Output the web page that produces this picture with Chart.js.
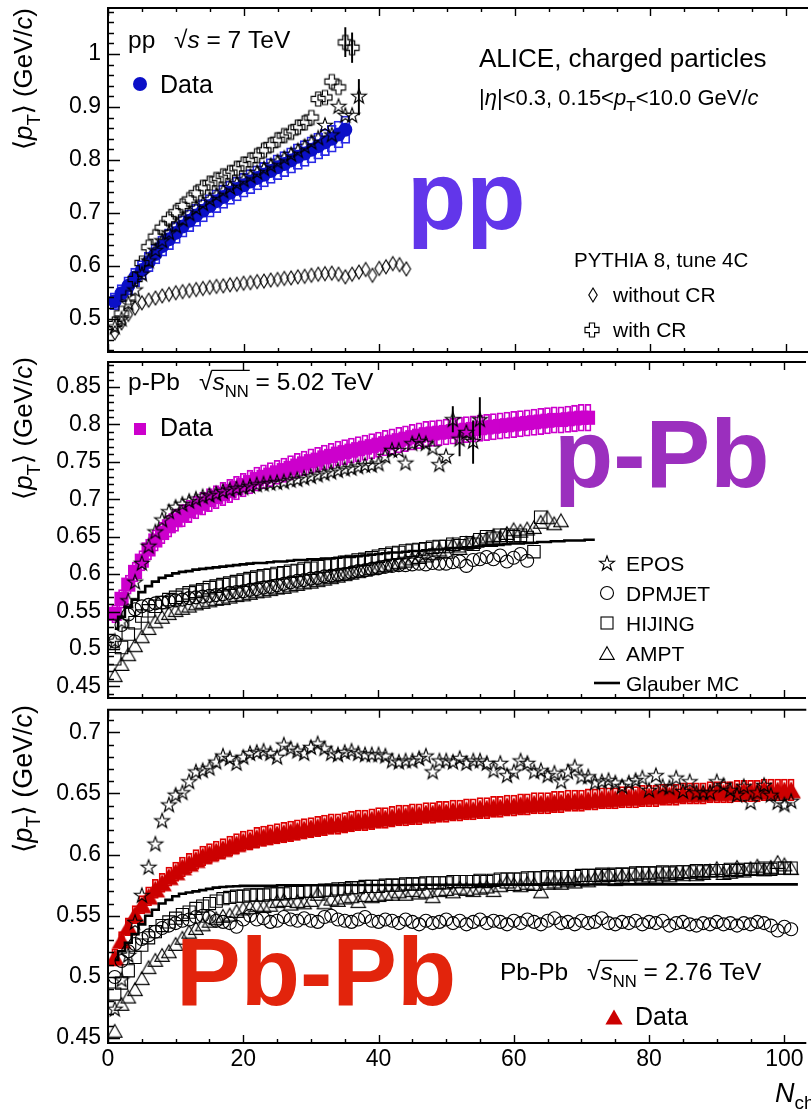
<!DOCTYPE html>
<html><head><meta charset="utf-8">
<script src="https://cdn.jsdelivr.net/npm/chart.js@4.4.1/dist/chart.umd.min.js"></script>
<style>
html,body{margin:0;padding:0;background:#fff;overflow:hidden;}
#wrap{position:relative;width:811px;height:1110px;}
canvas{position:absolute;left:0;}
</style></head><body>
<div id="wrap">
<canvas id="c1" width="811" height="360" style="top:0px"></canvas>
<canvas id="c2" width="811" height="356" style="top:352px"></canvas>
<canvas id="c3" width="811" height="410" style="top:700px"></canvas>
</div>
<script>
const F = "'Liberation Sans', Arial, Helvetica, 'DejaVu Sans', sans-serif";
const XMAX = 102.5;
const xTicks = [0, 20, 40, 60, 80, 100];
const yTicksPP = [0.5, 0.6, 0.7, 0.8, 0.9, 1.0];
const yTicksPPb = [0.45, 0.5, 0.55, 0.6, 0.65, 0.7, 0.75, 0.8, 0.85];
const yTicksPbPb = [0.45, 0.5, 0.55, 0.6, 0.65, 0.7];

// ---------- pp, sqrt(s)=7 TeV (values for Nch = 1,2,3,...) ----------
const ppData = [0.533,0.548,0.562,0.578,0.592,0.607,0.622,0.637,0.650,0.662,
  0.674,0.685,0.695,0.704,0.713,0.722,0.730,0.738,0.745,0.752,
  0.759,0.766,0.772,0.779,0.786,0.792,0.799,0.806,0.812,0.819,
  0.826,0.833,0.840,0.848,0.857];
const ppSysRel = 0.03;
const ppWithCR = [0.490,0.510,0.540,0.575,0.605,0.635,0.655,0.672,0.688,0.701,
  0.713,0.725,0.737,0.748,0.756,0.763,0.770,0.776,0.784,0.792,
  0.800,0.808,0.818,0.828,0.838,0.846,0.852,0.862,0.870,0.880,
  0.915,0.918,0.948,0.937,1.022,1.012];
const ppWithCRErr = [[35,0.995,1.050],[36,0.984,1.040]];
const ppStar = [0.485,0.500,0.530,0.555,0.585,0.610,0.630,0.648,0.663,0.676,
  0.688,0.699,0.709,0.718,0.726,0.734,0.742,0.749,0.756,0.763,
  0.770,0.777,0.784,0.790,0.797,0.804,0.811,0.818,0.826,0.834,
  0.842,0.866,0.848,0.902,0.885,0.885,0.921];
const ppStarErr = [[37,0.885,0.952]];
const ppNoCR = [0.473,0.492,0.508,0.520,0.530,0.535,0.539,0.543,0.546,0.549,
  0.551,0.553,0.555,0.557,0.559,0.561,0.562,0.564,0.565,0.567,
  0.568,0.570,0.571,0.573,0.574,0.576,0.577,0.579,0.580,0.582,
  0.584,0.585,0.586,0.584,0.579,0.584,0.588,0.593,0.582,0.595,
  0.598,0.604,0.602,0.594];

// ---------- p-Pb, sqrt(sNN)=5.02 TeV ----------
const ppbData = [0.547,0.567,0.586,0.603,0.618,0.633,0.645,0.655,0.664,0.672,
  0.678,0.684,0.689,0.694,0.699,0.703,0.707,0.711,0.715,0.719,
  0.723,0.727,0.730,0.733,0.736,0.739,0.742,0.745,0.748,0.751,
  0.753,0.756,0.758,0.761,0.763,0.765,0.767,0.769,0.771,0.773,
  0.775,0.777,0.779,0.781,0.783,0.785,0.787,0.788,0.789,0.790,
  0.791,0.792,0.793,0.794,0.795,0.796,0.797,0.798,0.799,0.800,
  0.801,0.802,0.803,0.804,0.805,0.806,0.806,0.807,0.808,0.809,0.809];
const ppbSysRel = 0.022;
const ppbEPOS = [0.511,0.537,0.565,0.590,0.615,0.638,0.657,0.673,0.684,0.690,
  0.694,0.698,0.701,0.704,0.706,0.708,0.711,0.713,0.715,0.716,
  0.718,0.720,0.721,0.722,0.723,0.724,0.726,0.727,0.729,0.731,
  0.733,0.735,0.737,0.739,0.741,0.742,0.744,0.746,0.746,0.748,
  0.758,0.766,0.766,0.749,0.775,0.778,0.775,0.769,0.747,0.758,
  0.807,0.781,0.790,0.778,0.807];
const ppbEPOSErr = [[51,0.790,0.824],[52,0.758,0.792],[54,0.748,0.805],[55,0.782,0.836]];
const ppbDPMJET = [0.510,0.532,0.546,0.553,0.557,0.559,0.561,0.562,0.564,0.565,
  0.566,0.568,0.569,0.570,0.571,0.572,0.573,0.575,0.576,0.577,
  0.579,0.580,0.582,0.583,0.585,0.587,0.589,0.591,0.592,0.594,
  0.595,0.597,0.598,0.599,0.600,0.602,0.604,0.605,0.607,0.608,
  0.610,0.611,0.612,0.612,0.613,0.614,0.613,0.615,0.614,0.614,
  0.616,0.617,0.611,0.619,0.620,0.623,0.620,0.625,0.617,0.622,
  0.627,0.618];
const ppbHIJING = [0.487,0.502,0.520,0.535,0.544,0.551,0.557,0.562,0.566,0.569,
  0.572,0.575,0.577,0.579,0.582,0.584,0.586,0.588,0.590,0.592,
  0.594,0.596,0.598,0.599,0.601,0.602,0.604,0.605,0.607,0.608,
  0.610,0.611,0.613,0.614,0.616,0.617,0.619,0.620,0.622,0.624,
  0.626,0.628,0.629,0.631,0.632,0.633,0.634,0.636,0.637,0.637,
  0.640,0.638,0.642,0.640,0.646,0.650,0.648,0.652,0.652,0.650,
  0.652,0.649,0.630,0.676];
const ppbAMPT = [0.465,0.480,0.493,0.505,0.517,0.528,0.537,0.543,0.548,0.552,
  0.555,0.558,0.561,0.563,0.565,0.567,0.568,0.570,0.572,0.573,
  0.575,0.577,0.578,0.580,0.582,0.583,0.585,0.587,0.589,0.590,
  0.592,0.594,0.596,0.598,0.600,0.602,0.604,0.606,0.608,0.610,
  0.612,0.614,0.616,0.618,0.621,0.623,0.625,0.628,0.633,0.630,
  0.640,0.635,0.642,0.643,0.646,0.648,0.652,0.650,0.655,0.660,
  0.658,0.661,0.663,0.670,0.676,0.668,0.672];
const ppbGlauber = [0.527,0.543,0.556,0.566,0.576,0.584,0.590,0.595,0.598,0.601,
  0.603,0.604,0.606,0.607,0.608,0.609,0.610,0.611,0.612,0.613,
  0.614,0.615,0.615,0.616,0.617,0.617,0.618,0.619,0.619,0.620,
  0.620,0.621,0.621,0.622,0.623,0.623,0.624,0.625,0.626,0.627,
  0.628,0.629,0.629,0.630,0.631,0.631,0.632,0.633,0.633,0.634,
  0.635,0.635,0.636,0.636,0.637,0.638,0.638,0.639,0.640,0.641,
  0.641,0.642,0.642,0.643,0.643,0.644,0.644,0.645,0.645,0.645,
  0.646,0.646];

// ---------- Pb-Pb, sqrt(sNN)=2.76 TeV ----------
const pbData = [0.516,0.530,0.541,0.551,0.559,0.566,0.572,0.577,0.582,0.586,
  0.590,0.593,0.596,0.599,0.601,0.603,0.605,0.607,0.609,0.611,
  0.612,0.614,0.615,0.616,0.617,0.618,0.619,0.620,0.621,0.622,
  0.623,0.624,0.625,0.625,0.626,0.627,0.628,0.628,0.629,0.630,
  0.630,0.631,0.632,0.632,0.633,0.633,0.634,0.634,0.635,0.635,
  0.636,0.636,0.637,0.637,0.638,0.638,0.639,0.639,0.640,0.640,
  0.641,0.641,0.642,0.642,0.642,0.643,0.643,0.644,0.644,0.644,
  0.645,0.645,0.646,0.646,0.646,0.647,0.647,0.647,0.648,0.648,
  0.648,0.649,0.649,0.649,0.650,0.650,0.650,0.650,0.651,0.651,
  0.651,0.651,0.652,0.652,0.652,0.652,0.653,0.653,0.653,0.653,0.653];
const pbSysRel = 0.0135;
const pbEPOS = [0.474,0.498,0.518,0.545,0.567,0.590,0.609,0.628,0.641,0.649,
  0.651,0.660,0.668,0.669,0.671,0.676,0.681,0.679,0.675,0.680,
  0.683,0.684,0.685,0.683,0.680,0.690,0.687,0.685,0.683,0.688,
  0.691,0.687,0.683,0.682,0.684,0.685,0.683,0.682,0.682,0.682,
  0.681,0.677,0.676,0.677,0.677,0.679,0.681,0.668,0.677,0.677,
  0.676,0.679,0.675,0.677,0.677,0.675,0.669,0.675,0.665,0.668,
  0.677,0.675,0.668,0.669,0.665,0.667,0.660,0.668,0.672,0.664,
  0.664,0.659,0.660,0.661,0.659,0.656,0.659,0.661,0.663,0.653,
  0.665,0.656,0.655,0.663,0.652,0.660,0.651,0.651,0.651,0.660,
  0.657,0.653,0.649,0.656,0.643,0.651,0.657,0.649,0.643,0.641,0.644];
const pbDPMJET = [0.500,0.513,0.521,0.527,0.531,0.534,0.537,0.540,0.542,0.544,
  0.546,0.547,0.549,0.550,0.549,0.546,0.545,0.544,0.541,0.547,
  0.550,0.547,0.548,0.545,0.546,0.549,0.547,0.546,0.548,0.546,
  0.545,0.549,0.550,0.547,0.546,0.545,0.547,0.549,0.546,0.545,
  0.547,0.546,0.544,0.547,0.545,0.543,0.546,0.544,0.545,0.547,
  0.544,0.546,0.543,0.545,0.547,0.544,0.546,0.545,0.543,0.546,
  0.544,0.547,0.545,0.543,0.546,0.548,0.544,0.545,0.543,0.546,
  0.544,0.545,0.548,0.544,0.543,0.545,0.544,0.546,0.543,0.545,
  0.544,0.546,0.542,0.544,0.545,0.543,0.542,0.544,0.543,0.545,
  0.543,0.544,0.542,0.544,0.543,0.545,0.544,0.542,0.538,0.541,0.539];
const pbHIJING = [0.486,0.495,0.505,0.516,0.526,0.532,0.537,0.542,0.545,0.548,
  0.551,0.553,0.556,0.558,0.560,0.562,0.564,0.565,0.566,0.566,
  0.567,0.567,0.567,0.568,0.568,0.568,0.569,0.569,0.570,0.570,
  0.570,0.571,0.571,0.572,0.572,0.573,0.573,0.574,0.574,0.574,
  0.575,0.575,0.575,0.576,0.576,0.576,0.577,0.577,0.577,0.577,
  0.578,0.578,0.578,0.578,0.579,0.578,0.579,0.580,0.580,0.580,
  0.580,0.581,0.581,0.581,0.582,0.581,0.582,0.582,0.582,0.583,
  0.583,0.583,0.584,0.583,0.584,0.584,0.584,0.585,0.585,0.585,
  0.585,0.586,0.585,0.586,0.586,0.586,0.587,0.586,0.587,0.587,
  0.587,0.588,0.587,0.588,0.588,0.588,0.589,0.588,0.589,0.589,0.589];
const pbAMPT = [0.456,0.478,0.484,0.490,0.499,0.508,0.514,0.518,0.521,0.527,
  0.532,0.537,0.540,0.543,0.546,0.548,0.550,0.551,0.554,0.556,
  0.557,0.559,0.558,0.559,0.562,0.563,0.560,0.562,0.561,0.563,
  0.568,0.561,0.564,0.563,0.565,0.566,0.562,0.567,0.566,0.567,
  0.568,0.568,0.570,0.568,0.571,0.569,0.570,0.566,0.571,0.572,
  0.570,0.573,0.572,0.571,0.573,0.574,0.571,0.575,0.578,0.576,
  0.575,0.577,0.576,0.570,0.577,0.578,0.577,0.579,0.578,0.580,
  0.579,0.581,0.582,0.584,0.580,0.583,0.581,0.584,0.582,0.583,
  0.582,0.584,0.583,0.585,0.584,0.586,0.584,0.585,0.587,0.589,
  0.585,0.586,0.590,0.587,0.589,0.591,0.588,0.590,0.594,0.592,0.589];
const pbGlauberN = [1,2,3,4,5,6,7,8,9,10,11,12,13,14,15,16,17,18,19,20,30,40,50,60,70,80,90,102];
const pbGlauber = [0.514,0.521,0.528,0.535,0.543,0.550,0.555,0.560,0.563,0.566,
  0.568,0.569,0.570,0.571,0.572,0.573,0.5735,0.574,0.5742,0.5745,
  0.575,0.5752,0.5754,0.5755,0.5756,0.5757,0.5757,0.5757];

// ---------- helpers ----------
const fn = (s, st) => (st ? st + ' ' : '') + s + 'px ' + F;
function pts(ys) { return ys.map((v, i) => ({x: i + 1, y: v})); }
function mk(w, h, draw) {
  const c = document.createElement('canvas'); c.width = w; c.height = h;
  const g = c.getContext('2d'); g.translate(w / 2, h / 2);
  g.strokeStyle = '#000'; g.lineWidth = 1.15; g.lineJoin = 'miter';
  draw(g); return c;
}
const starImg = mk(20, 20, g => {
  g.beginPath();
  for (let k = 0; k < 10; k++) {
    const r = k % 2 ? 3.1 : 7.8, a = -Math.PI / 2 + k * Math.PI / 5;
    g.lineTo(r * Math.cos(a), r * Math.sin(a) + 0.7);
  }
  g.closePath(); g.stroke();
});
const crossImg = mk(20, 20, g => {
  const a = 7, b = 2.6; g.beginPath();
  [[-b,-a],[b,-a],[b,-b],[a,-b],[a,b],[b,b],[b,a],[-b,a],[-b,b],[-a,b],[-a,-b],[-b,-b]].forEach(p => g.lineTo(p[0], p[1]));
  g.closePath(); g.stroke();
});
const diamondImg = mk(14, 18, g => {
  g.beginPath(); g.moveTo(0, -7); g.lineTo(4.2, 0); g.lineTo(0, 7); g.lineTo(-4.2, 0); g.closePath(); g.stroke();
});
const openTriImg = mk(18, 16, g => {
  g.beginPath(); g.moveTo(0, -6.3); g.lineTo(7.2, 6.3); g.lineTo(-7.2, 6.3); g.closePath(); g.stroke();
});
const RED = '#cc0000', REDBOX = '#e00000';
const redTriImg = mk(22, 20, g => {
  g.beginPath(); g.moveTo(0, -8.5); g.lineTo(9.8, 8.5); g.lineTo(-9.8, 8.5); g.closePath(); g.fillStyle = RED; g.fill();
});
const redTriLegend = mk(18, 16, g => {
  g.beginPath(); g.moveTo(0, -7.5); g.lineTo(8.6, 7.5); g.lineTo(-8.6, 7.5); g.closePath(); g.fillStyle = RED; g.fill();
});

function scat(ys, style, r, border, fill, bw, xs) {
  return {type: 'scatter', showLine: false,
    data: xs ? xs.map((x, i) => ({x, y: ys[i]})) : pts(ys),
    pointStyle: style, pointRadius: r, pointBorderColor: border,
    pointBackgroundColor: fill, pointBorderWidth: bw};
}
function boxes(ys, rel, color, thick) {
  return {type: 'bar', grouped: false, barThickness: thick, borderSkipped: false,
    data: ys.map((v, i) => ({x: i + 1, y: [v * (1 - rel), v * (1 + rel)]})),
    borderColor: color, borderWidth: 1.1, backgroundColor: 'rgba(0,0,0,0)'};
}
function errs(arr) {
  return {type: 'bar', grouped: false, barThickness: 1.3, borderWidth: 0,
    data: arr.map(e => ({x: e[0], y: [e[1], e[2]]})), backgroundColor: '#000'};
}
function stepLine(ys, xs) {
  return {type: 'line', stepped: 'middle', pointRadius: 0, borderColor: '#000', borderWidth: 2.6,
    data: xs ? xs.map((x, i) => ({x, y: ys[i]})) : pts(ys), fill: false};
}

function rich(ctx, x, y, parts) {
  let cx = x; const pos = [];
  for (const p of parts) {
    ctx.font = p.f; if (p.x != null) cx = p.x;
    ctx.fillText(p.t, cx, y + (p.dy || 0));
    const w = ctx.measureText(p.t).width; pos.push([cx, cx + w]); cx += w;
  }
  return pos;
}
function yTitle(ctx, y0, y1, xb) {
  const mkParts = s => [{t:'\u27E8', f:fn(s)}, {t:'p', f:fn(s,'italic')}, {t:'T', f:fn(s*0.72), dy:s*0.3},
    {t:'\u27E9', f:fn(s)}, {t:' (GeV/', f:fn(s)}, {t:'c', f:fn(s,'italic')}, {t:')', f:fn(s)}];
  let w = 0; for (const p of mkParts(24)) { ctx.font = p.f; w += ctx.measureText(p.t).width; }
  const s = 24 * (y0 - y1) / w;
  ctx.save(); ctx.translate(xb, y0); ctx.rotate(-Math.PI / 2);
  rich(ctx, 0, 0, mkParts(s)); ctx.restore();
}
function sqrtS(ctx, x, y, size, nn, rest) {
  const parts = [{t:'\u221A', f:fn(size), x:x}, {t:'s', f:fn(size,'italic')}];
  if (nn) parts.push({t:'NN', f:fn(size*0.68), dy: size*0.3});
  parts.push({t: rest, f: fn(size)});
  const pos = rich(ctx, x, y, parts);
  if (nn) {
    ctx.save(); ctx.lineWidth = 1.3; ctx.strokeStyle = '#000'; ctx.beginPath();
    const yy = y - size * 0.8;
    ctx.moveTo(pos[0][1] - 1, yy); ctx.lineTo(pos[2][1] + 1, yy); ctx.stroke(); ctx.restore();
  }
}

function decoPlugin(o) {
  return {
    id: 'deco',
    afterDraw(chart) {
      const ctx = chart.ctx, a = chart.chartArea, xs = chart.scales.x, ys = chart.scales.y;
      ctx.save();
      ctx.strokeStyle = '#000'; ctx.lineWidth = 1.4; ctx.beginPath();
      for (let k = 0; k * 5 <= XMAX; k++) {
        const v = k * 5, px = Math.round(xs.getPixelForValue(v)) + 0.5;
        const L = xTicks.includes(v) ? 8 : 4;
        ctx.moveTo(px, a.bottom); ctx.lineTo(px, a.bottom - L);
        ctx.moveTo(px, a.top); ctx.lineTo(px, a.top + L);
      }
      for (let k = Math.ceil(ys.min / o.minor - 1e-6); k * o.minor <= ys.max + 1e-9; k++) {
        const v = k * o.minor, py = Math.round(ys.getPixelForValue(v)) + 0.5;
        const major = o.yt.some(t => Math.abs(t - v) < 1e-6);
        ctx.moveTo(a.left, py); ctx.lineTo(a.left + (major ? 12 : 6), py);
      }
      ctx.stroke();
      ctx.lineWidth = 2; ctx.beginPath();
      ctx.moveTo(a.right + 5, a.top); ctx.lineTo(a.left, a.top); ctx.lineTo(a.left, a.bottom); ctx.lineTo(a.right + 5, a.bottom);
      ctx.stroke();
      ctx.translate(0, -o.oy);
      ctx.fillStyle = '#000'; ctx.textAlign = 'left'; ctx.textBaseline = 'alphabetic';
      o.draw(ctx);
      ctx.restore();
    }
  };
}

function makeChart(id, o) {
  return new Chart(document.getElementById(id), {
    type: 'scatter',
    data: {datasets: o.datasets},
    options: {
      responsive: false, animation: false, events: [],
      layout: {padding: {top: o.padTop, left: 0, right: 0, bottom: 0}},
      plugins: {legend: {display: false}, tooltip: {enabled: false}},
      scales: {
        x: {type: 'linear', min: 0, max: XMAX, offset: false,
          grid: {display: false, drawTicks: false}, border: {display: false},
          ticks: {display: o.showX, padding: 3, color: '#000', font: {family: F, size: 23}, maxRotation: 0, autoSkip: false,
            callback: v => String(v)},
          afterBuildTicks: s => { s.ticks = xTicks.map(v => ({value: v})); },
          afterFit: s => { s.height = o.xH; s.paddingLeft = 0; s.paddingRight = 0; }},
        y: {type: 'linear', min: o.ymin, max: o.ymax, beginAtZero: false,
          grid: {display: false, drawTicks: false}, border: {display: false},
          ticks: {padding: 7, color: '#000', font: {family: F, size: 23}, autoSkip: false,
            callback: v => String(Number(Number(v).toFixed(2)))},
          afterBuildTicks: s => { s.ticks = o.yt.map(v => ({value: v})); },
          afterFit: s => { s.width = 108; s.paddingTop = 0; s.paddingBottom = 0; }}
      }
    },
    plugins: [decoPlugin(o)]
  });
}

const BLUE = '#0b10c8', BLUEBOX = '#2a2ae6', MAG = '#cc00cc';

// ---------- panel 1 : pp ----------
makeChart('c1', {
  oy: 0, padTop: 8, xH: 4, showX: false, ymin: 0.437, ymax: 1.087, yt: yTicksPP, minor: 0.02,
  datasets: [
    errs(ppWithCRErr), errs(ppStarErr),
    scat(ppWithCR, crossImg, 7, '#000', 'rgba(0,0,0,0)', 1),
    scat(ppStar, starImg, 7, '#000', 'rgba(0,0,0,0)', 1),
    scat(ppNoCR, diamondImg, 6, '#000', 'rgba(0,0,0,0)', 1),
    scat(ppData, 'circle', 7, BLUE, BLUE, 0),
    boxes(ppData, ppSysRel, BLUEBOX, 9)
  ],
  draw(ctx) {
    yTitle(ctx, 150, 8, 32);
    rich(ctx, 128, 48, [{t:'pp', f:fn(24.5)}]);
    sqrtS(ctx, 174, 48, 24.5, false, ' = 7 TeV');
    ctx.fillStyle = BLUE; ctx.beginPath(); ctx.arc(140, 84, 7, 0, 2 * Math.PI); ctx.fill();
    ctx.fillStyle = '#000'; ctx.font = fn(25); ctx.fillText('Data', 160, 93);
    ctx.font = fn(26); ctx.fillText('ALICE, charged particles', 479, 67);
    rich(ctx, 479, 105, [{t:'|', f:fn(22)}, {t:'\u03B7', f:fn(22,'italic')}, {t:'|<0.3, 0.15<', f:fn(22)},
      {t:'p', f:fn(22,'italic')}, {t:'T', f:fn(15.5), dy:6}, {t:'<10.0 GeV/', f:fn(22)}, {t:'c', f:fn(22,'italic')}]);
    ctx.font = fn(20.5); ctx.fillText('PYTHIA 8, tune 4C', 574, 267);
    ctx.drawImage(diamondImg, 593 - 7, 295 - 9);
    ctx.font = fn(21); ctx.fillText('without CR', 613, 302);
    ctx.drawImage(crossImg, 592 - 10, 330 - 10);
    ctx.fillText('with CR', 613, 337);
    ctx.fillStyle = '#6236ea'; ctx.font = fn(97, 'bold'); ctx.fillText('pp', 407, 229);
  }
});

// ---------- panel 2 : p-Pb ----------
makeChart('c2', {
  oy: 352, padTop: 4, xH: 4, showX: false, ymin: 0.4345, ymax: 0.8835, yt: yTicksPPb, minor: 0.01,
  datasets: [
    errs(ppbEPOSErr),
    scat(ppbEPOS, starImg, 7, '#000', 'rgba(0,0,0,0)', 1),
    scat(ppbDPMJET, 'circle', 6.5, '#000', 'rgba(0,0,0,0)', 1.1),
    scat(ppbHIJING, 'rect', 8.8, '#000', 'rgba(0,0,0,0)', 1.1),
    scat(ppbAMPT, openTriImg, 7, '#000', 'rgba(0,0,0,0)', 1.1),
    stepLine(ppbGlauber),
    scat(ppbData, 'rect', 10, MAG, MAG, 0),
    boxes(ppbData, ppbSysRel, MAG, 6)
  ],
  draw(ctx) {
    yTitle(ctx, 500, 357, 32);
    rich(ctx, 128, 390, [{t:'p-Pb', f:fn(24.5)}]);
    sqrtS(ctx, 199, 390, 24.5, true, ' = 5.02 TeV');
    ctx.fillStyle = MAG; ctx.fillRect(134, 423, 12, 12);
    ctx.fillStyle = '#000'; ctx.font = fn(25); ctx.fillText('Data', 160, 436);
    ctx.font = fn(21);
    ctx.drawImage(starImg, 607 - 10, 563 - 10); ctx.fillText('EPOS', 626, 571);
    ctx.lineWidth = 1.1; ctx.strokeStyle = '#000';
    ctx.beginPath(); ctx.arc(607, 593, 6.5, 0, 2 * Math.PI); ctx.stroke(); ctx.fillText('DPMJET', 626, 601);
    ctx.strokeRect(601, 617, 12, 12); ctx.fillText('HIJING', 626, 631);
    ctx.drawImage(openTriImg, 607 - 9, 653 - 8);
    ctx.fillText('AMPT', 626, 661);
    ctx.lineWidth = 2.6; ctx.beginPath(); ctx.moveTo(594, 683); ctx.lineTo(620, 683); ctx.stroke();
    ctx.fillText('Glauber MC', 626, 691);
    ctx.fillStyle = '#9b2fbe'; ctx.font = fn(97, 'bold'); ctx.fillText('p-Pb', 554, 487);
  }
});

// ---------- panel 3 : Pb-Pb ----------
makeChart('c3', {
  oy: 700, padTop: 4, xH: 67, showX: true, ymin: 0.446, ymax: 0.7185, yt: yTicksPbPb, minor: 0.01,
  datasets: [
    scat(pbEPOS, starImg, 7, '#000', 'rgba(0,0,0,0)', 1),
    scat(pbDPMJET, 'circle', 6.5, '#000', 'rgba(0,0,0,0)', 1.1),
    scat(pbHIJING, 'rect', 8.6, '#000', 'rgba(0,0,0,0)', 1.1),
    scat(pbAMPT, openTriImg, 7, '#000', 'rgba(0,0,0,0)', 1.1),
    stepLine(pbGlauber, pbGlauberN),
    scat(pbData, redTriImg, 9, RED, RED, 0),
    boxes(pbData, pbSysRel, REDBOX, 6)
  ],
  draw(ctx) {
    yTitle(ctx, 853, 705, 32);
    rich(ctx, 500, 980, [{t:'Pb-Pb', f:fn(24.5)}]);
    sqrtS(ctx, 587, 980, 24.5, true, ' = 2.76 TeV');
    ctx.drawImage(redTriLegend, 614 - 9, 1017 - 8);
    ctx.fillStyle = '#000'; ctx.font = fn(25); ctx.fillText('Data', 635, 1025);
    rich(ctx, 775, 1102, [{t:'N', f:fn(27,'italic')}, {t:'ch', f:fn(19), dy:7}]);
    ctx.fillStyle = '#e2240c'; ctx.font = fn(97, 'bold'); ctx.fillText('Pb-Pb', 176, 1005);
  }
});
</script>
</body></html>
